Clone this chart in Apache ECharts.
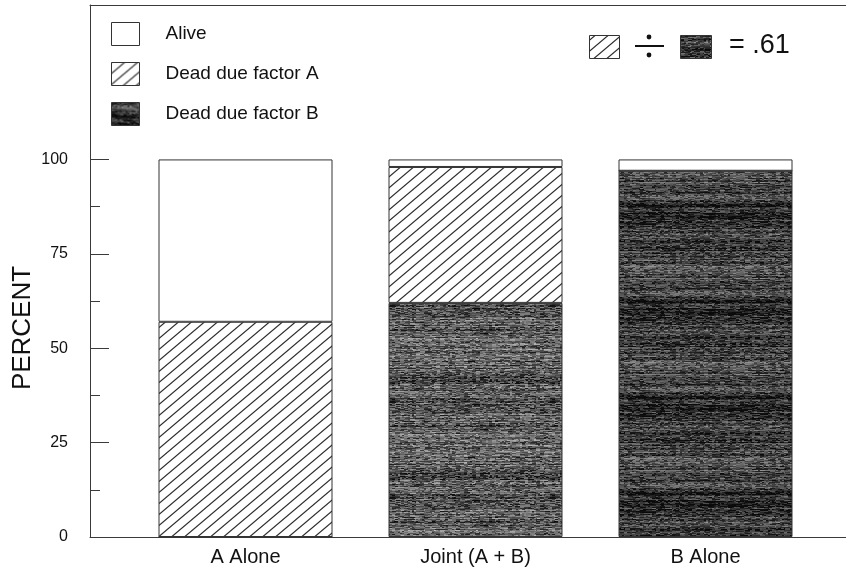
<!DOCTYPE html>
<html>
<head>
<meta charset="utf-8">
<script src="https://cdn.jsdelivr.net/npm/echarts@6/dist/echarts.min.js"></script>
<style>
html,body{margin:0;padding:0;background:#fff;}
#c{width:846px;height:575px;}
</style>
</head>
<body>
<div id="c"></div>
<script>
// ---- data ----
var categories = ['A Alone', 'Joint (A + B)', 'B Alone'];
var deadB = [0, 62, 97];
var deadA = [57, 36, 0];
var alive = [43, 2, 3];
var yLabelTicks = [0, 25, 50, 75, 100];
var yMinorTicks = [12.5, 37.5, 62.5, 87.5];
var ratioText = '= .61';

// ---- textures (style only) ----
function makeHatch() {
  var w = 13, h = 11;
  var c = document.createElement('canvas');
  c.width = w; c.height = h;
  var g = c.getContext('2d');
  g.fillStyle = '#fff'; g.fillRect(0, 0, w, h);
  g.strokeStyle = '#2a2a2a'; g.lineWidth = 1.2;
  for (var k = -1; k <= 1; k++) {
    g.beginPath();
    g.moveTo(k * w - 1, h + h / w);
    g.lineTo(k * w + w + 1, -h / w);
    g.stroke();
  }
  return c;
}
function hash(a, b, s) {
  var n = Math.imul(a, 374761393) + Math.imul(b, 668265263) + Math.imul(s, 982451653);
  n = Math.imul(n ^ (n >>> 13), 1274126177);
  n = n ^ (n >>> 16);
  return (n >>> 0) / 4294967295;
}
function makeNoise(base, amp, seed) {
  var w = 160, h = 96;
  var c = document.createElement('canvas');
  c.width = w; c.height = h;
  var g = c.getContext('2d');
  var img = g.createImageData(w, h);
  for (var y = 0; y < h; y++) {
    var row = (hash(0, y, seed) - 0.5) * amp * 0.9;
    var band = (hash(1, Math.floor(y / 12), seed) - 0.5) * amp * 0.6;
    for (var x = 0; x < w; x++) {
      var run = Math.floor(x / (2 + Math.floor(hash(x >> 3, y, seed + 7) * 4)));
      var v = base + row + band + (hash(run, y, seed + 3) - 0.5) * amp * 1.6;
      v = Math.max(10, Math.min(200, v));
      var i = (y * w + x) * 4;
      img.data[i] = img.data[i + 1] = img.data[i + 2] = v;
      img.data[i + 3] = 255;
    }
  }
  g.putImageData(img, 0, 0);
  return c;
}
var hatch = { image: makeHatch(), repeat: 'repeat' };
var darkJoint = { image: makeNoise(92, 70, 11), repeat: 'repeat' };
var darkB = { image: makeNoise(58, 60, 29), repeat: 'repeat' };

function items(arr, colorOverride) {
  return arr.map(function (v, i) {
    var item = { value: v };
    if (colorOverride && colorOverride[i]) item.itemStyle = { color: colorOverride[i] };
    return item;
  });
}

var edge = '#333';
var frame = { show: true, onZero: false, lineStyle: { color: '#3a3a3a', width: 1 } };
var font = '"Liberation Sans", Arial, Helvetica, sans-serif';
var Y_MAX = 140.9;

var chart = echarts.init(document.getElementById('c'), null, { renderer: 'canvas' });
chart.setOption({
  backgroundColor: '#fff',
  animation: false,
  textStyle: { fontFamily: font, color: '#111' },
  grid: [
    // bars
    { left: 130.5, right: 25.5, top: 5, bottom: 38, show: false },
    // frame + y axis
    { left: 90, right: 0, top: 5, bottom: 38, show: false }
  ],
  legend: {
    data: ['Alive', 'Dead due factor A', 'Dead due factor B'],
    orient: 'vertical',
    left: 106, top: 17,
    itemWidth: 28, itemHeight: 23, itemGap: 16,
    icon: 'rect',
    selectedMode: false,
    itemStyle: { borderColor: edge, borderWidth: 1 },
    textStyle: { fontSize: 19, color: '#111', fontFamily: font, padding: [0, 0, 0, 21] }
  },
  xAxis: [{
    gridIndex: 0, type: 'category', data: categories,
    axisLine: { show: false },
    axisTick: { show: false },
    splitLine: { show: false },
    axisLabel: { fontSize: 20, color: '#111', margin: 10, fontFamily: font }
  }, {
    gridIndex: 1, type: 'value', min: 0, max: 1, position: 'bottom',
    axisLine: frame, axisTick: { show: false }, axisLabel: { show: false }, splitLine: { show: false }
  }, {
    gridIndex: 1, type: 'value', min: 0, max: 1, position: 'top',
    axisLine: frame, axisTick: { show: false }, axisLabel: { show: false }, splitLine: { show: false }
  }],
  yAxis: [{
    gridIndex: 0, type: 'value', min: 0, max: Y_MAX, show: false
  }, {
    gridIndex: 1, type: 'value', min: 0, max: Y_MAX, position: 'left',
    axisLine: frame,
    splitLine: { show: false },
    axisTick: { show: true, customValues: yLabelTicks, inside: true, length: 19, lineStyle: { color: '#3a3a3a', width: 1 } },
    axisLabel: { customValues: yLabelTicks, margin: 22, fontSize: 16, color: '#111', fontFamily: font }
  }, {
    gridIndex: 1, type: 'value', min: 0, max: Y_MAX, position: 'left', offset: 0,
    axisLine: { show: false },
    splitLine: { show: false },
    axisTick: { show: true, customValues: yMinorTicks, inside: true, length: 10, lineStyle: { color: '#3a3a3a', width: 1 } },
    axisLabel: { show: false }
  }],
  series: [{
    name: 'Dead due factor B', type: 'bar', stack: 'total', barWidth: 174,
    xAxisIndex: 0, yAxisIndex: 0,
    itemStyle: { color: darkB, borderColor: edge, borderWidth: 1 },
    data: items(deadB, [null, darkJoint, null])
  }, {
    name: 'Dead due factor A', type: 'bar', stack: 'total', barWidth: 174,
    xAxisIndex: 0, yAxisIndex: 0,
    itemStyle: { color: hatch, borderColor: edge, borderWidth: 1 },
    data: items(deadA)
  }, {
    name: 'Alive', type: 'bar', stack: 'total', barWidth: 174,
    xAxisIndex: 0, yAxisIndex: 0,
    itemStyle: { color: '#ffffff', borderColor: edge, borderWidth: 1 },
    data: items(alive)
  }],
  graphic: [
    { type: 'text', x: 23, y: 328, rotation: Math.PI / 2,
      style: { text: 'PERCENT', font: '26px ' + font, fill: '#111', align: 'center', verticalAlign: 'middle' } },
    { type: 'rect', shape: { x: 589.5, y: 35.5, width: 30, height: 23 },
      style: { fill: hatch, stroke: edge, lineWidth: 1 } },
    { type: 'line', shape: { x1: 635, y1: 46, x2: 664, y2: 46 }, style: { stroke: '#111', lineWidth: 2 } },
    { type: 'circle', shape: { cx: 649, cy: 37, r: 2.4 }, style: { fill: '#111' } },
    { type: 'circle', shape: { cx: 649, cy: 55, r: 2.4 }, style: { fill: '#111' } },
    { type: 'rect', shape: { x: 680.5, y: 35.5, width: 31, height: 23 },
      style: { fill: darkB, stroke: edge, lineWidth: 1 } },
    { type: 'text', x: 729, y: 46,
      style: { text: ratioText, font: '27px ' + font, fill: '#111', align: 'left', verticalAlign: 'middle' } }
  ]
});
</script>
</body>
</html>
